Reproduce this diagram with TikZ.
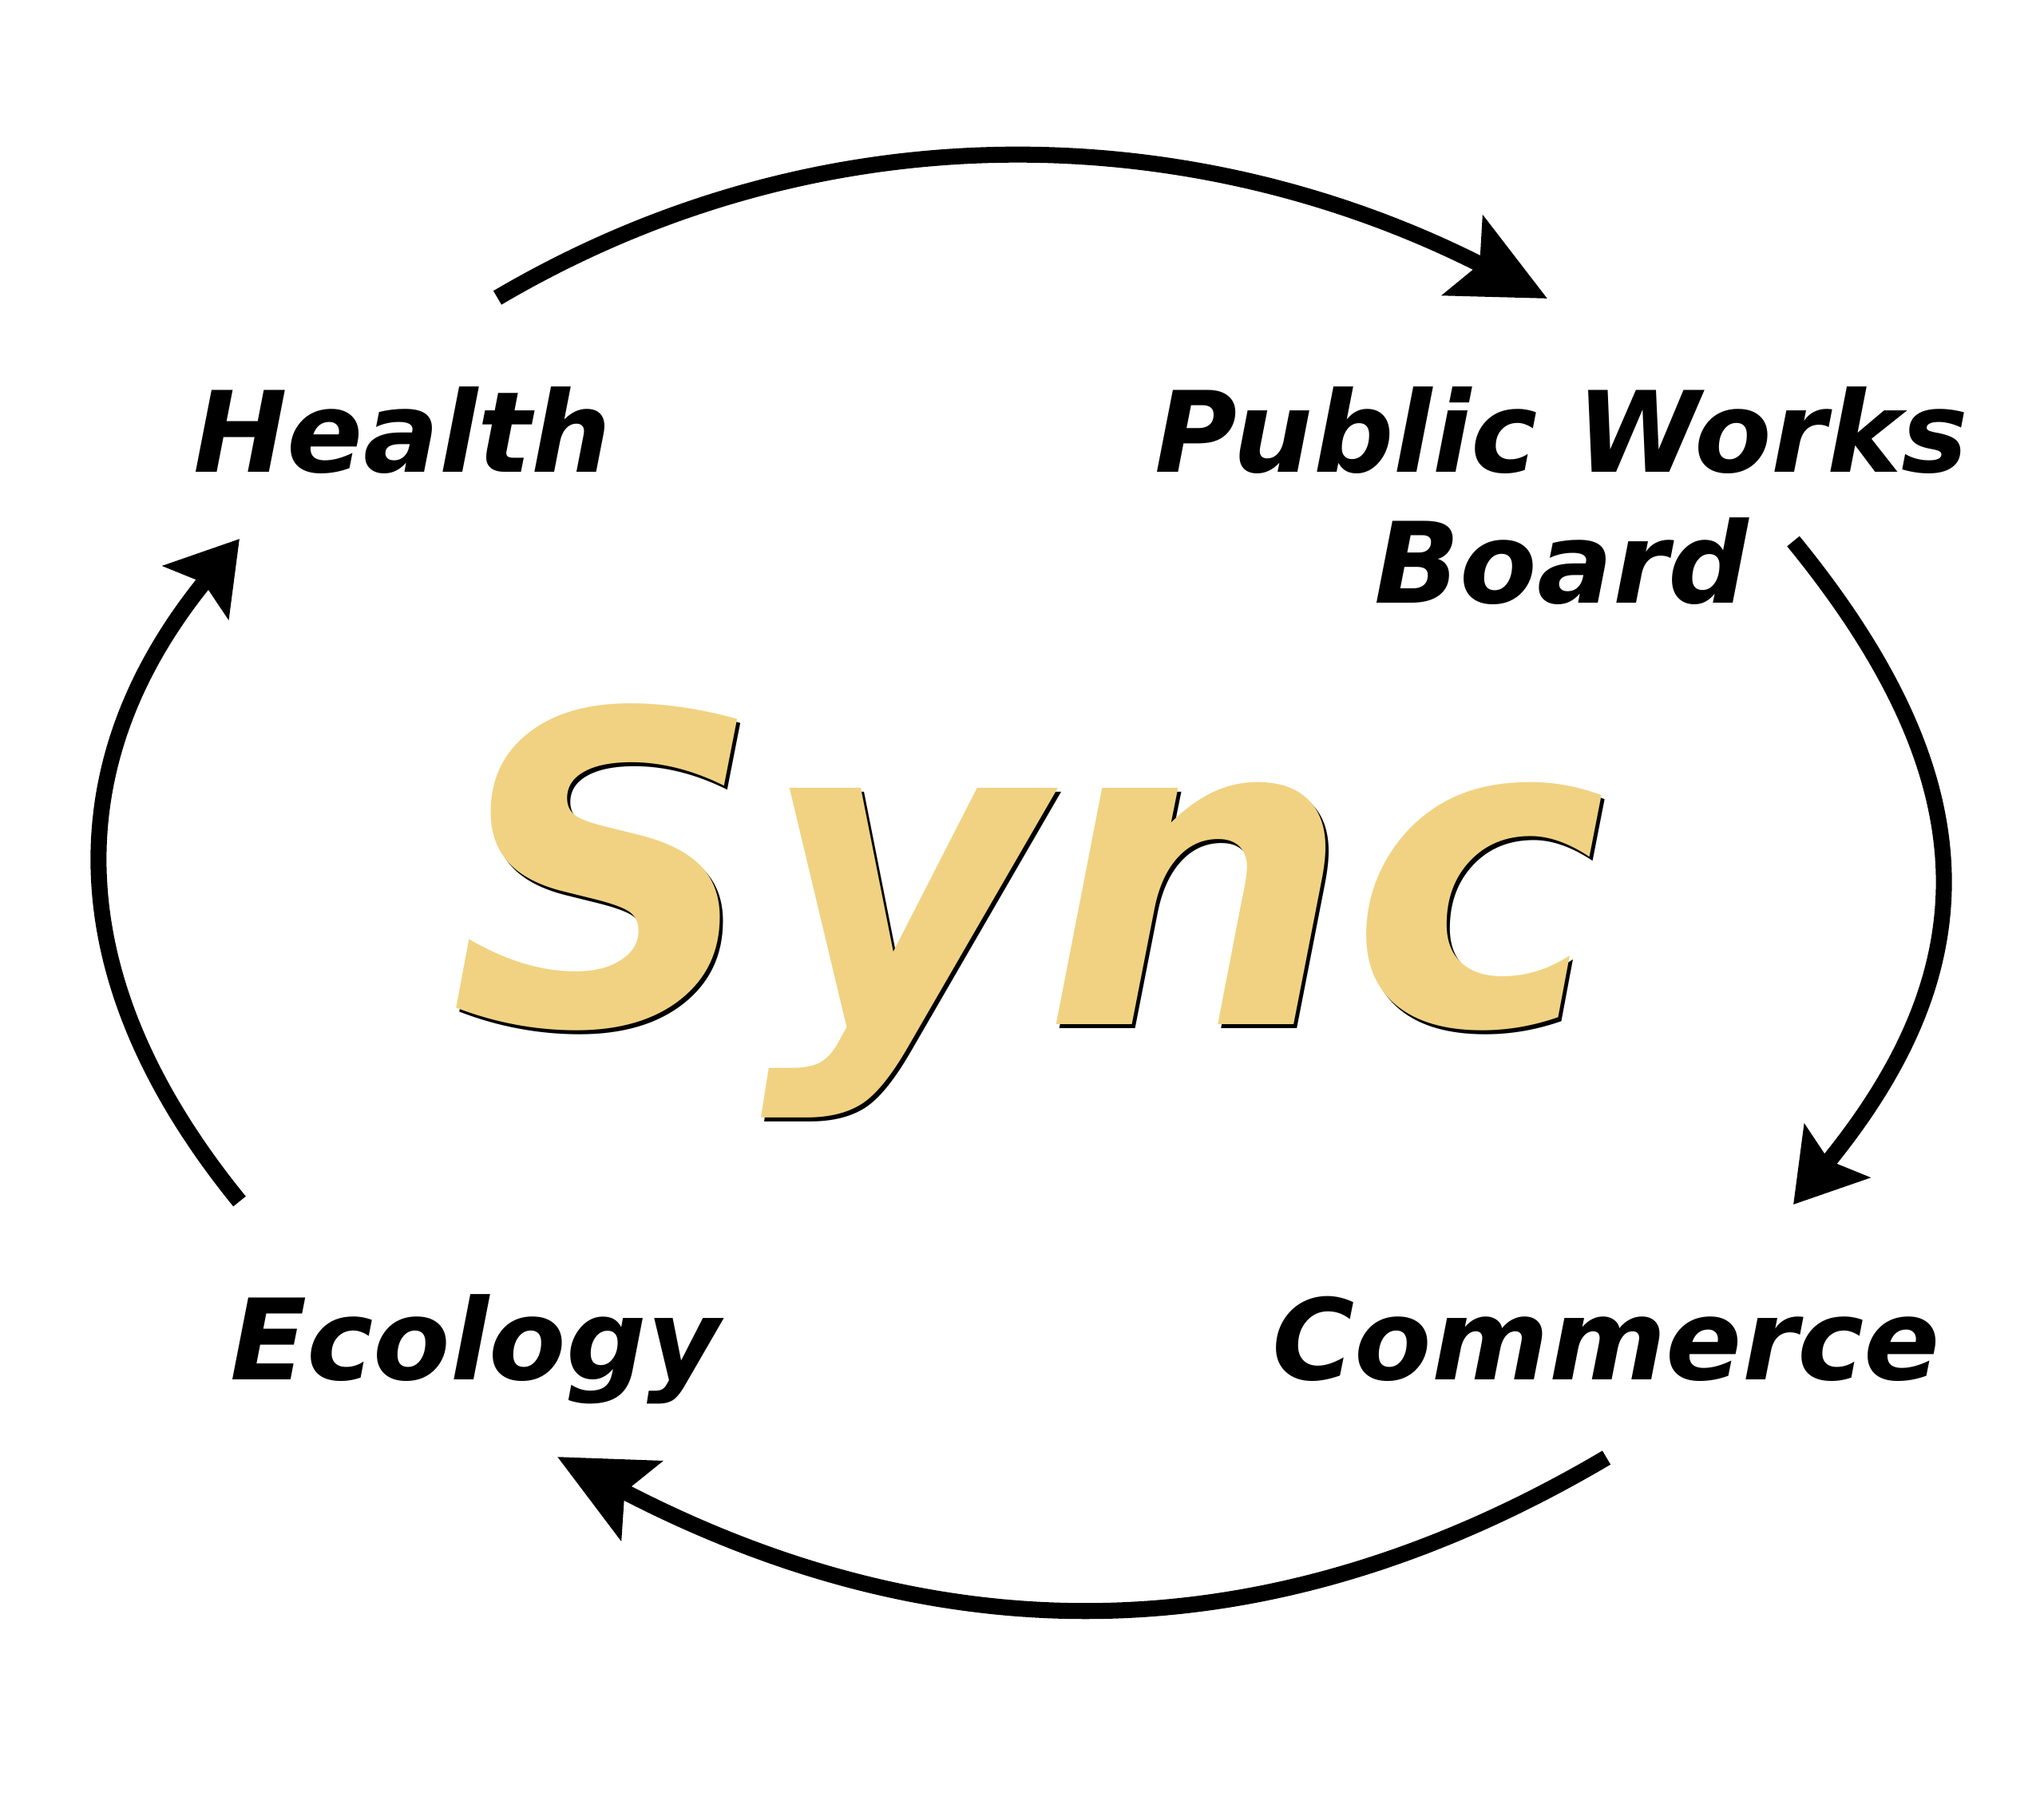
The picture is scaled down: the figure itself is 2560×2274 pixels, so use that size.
\documentclass[tikz,border=0pt]{standalone}
\usepackage{fontspec}
\usetikzlibrary{arrows.meta}
\newfontfamily\cycleFont{DejaVu Sans Bold Oblique}
\definecolor{syncgold}{RGB}{240,210,130}
\newcommand{\labelSize}[0]{\fontsize{40}{46.6}\selectfont}
\newcommand{\syncSize}[0]{\fontsize{154}{160}\selectfont}

\begin{document}
\begin{tikzpicture}[x=0.01cm, y=-0.01cm]
  \tikzset{cyclelabel/.style={font=\cycleFont\labelSize, inner sep=0pt, anchor=base, align=center},
           syncword/.style={font=\cycleFont\syncSize, inner sep=0pt, anchor=base},
           cyclearrow/.style={line width=5.7pt},
           longtip/.style={-{Stealth[length=1.18cm, width=1.1cm, inset=0.23cm]}},
           shorttip/.style={-{Stealth[length=0.86cm, width=1.04cm, inset=0.15cm]}}}
  \useasboundingbox (0,0) rectangle (2560,2274);

  \node[cyclelabel] (health) at (504,591) {Health};
  \node[cyclelabel] (works) at (1956,755) {Public Works\\Board};
  \node[cyclelabel] (ecology) at (595,1728) {Ecology};
  \node[cyclelabel] (commerce) at (2012,1728) {Commerce};

  % centre word, shadow first
  \node[syncword, text=black] (syncshadow) at (1292,1288) {Sync};
  \node[syncword, text=syncgold] (sync) at (1288,1283) {Sync};

  \coordinate (health-out) at (623,373);
  \coordinate (works-in) at (1938,374);
  \coordinate (works-out) at (2246,678);
  \coordinate (commerce-in) at (2246,1509);
  \coordinate (commerce-out) at (2012,1826);
  \coordinate (ecology-in) at (698,1825);
  \coordinate (ecology-out) at (300,1505);
  \coordinate (health-in) at (300,675);

  \draw[cyclearrow, longtip] (health-out) .. controls (1041,127) and (1506,154) .. (works-in);
  \draw[cyclearrow, shorttip] (works-out) .. controls (2490,977) and (2490,1210) .. (commerce-in);
  \draw[cyclearrow, longtip] (commerce-out) .. controls (1568,2088) and (1155,2063) .. (ecology-in);
  \draw[cyclearrow, shorttip] (ecology-out) .. controls (72,1225) and (72,955) .. (health-in);
\end{tikzpicture}
\end{document}
